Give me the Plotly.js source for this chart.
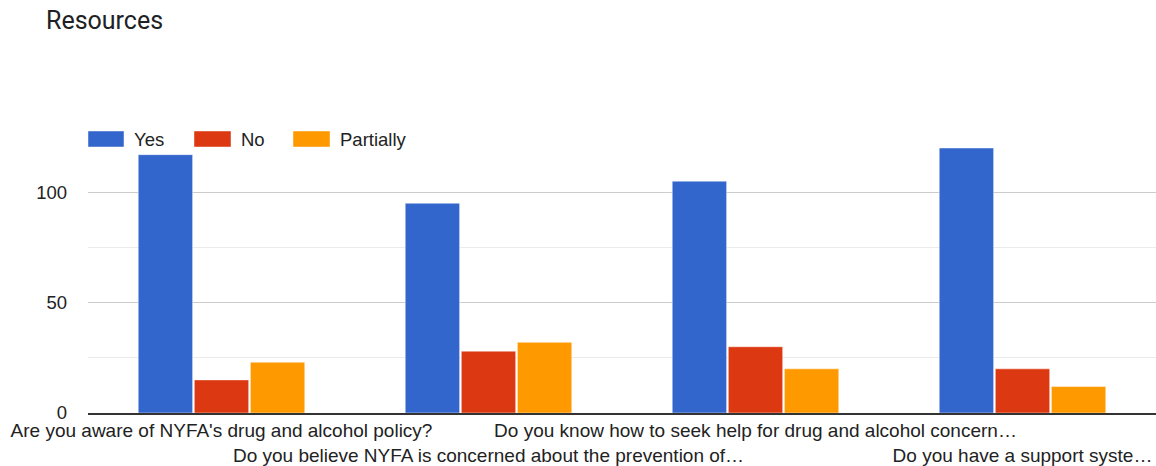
<!DOCTYPE html>
<html>
<head>
<meta charset="utf-8">
<script src="https://cdn.plot.ly/plotly-3.0.1.min.js"></script>
<style>html,body{margin:0;padding:0;background:#fff;}#chart{width:1156px;height:466px;}</style>
</head>
<body>
<div id="chart"></div>
<script>
// ---- data ----
const categories = [
  "Are you aware of NYFA's drug and alcohol policy?",
  "Do you believe NYFA is concerned about the prevention of…",
  "Do you know how to seek help for drug and alcohol concern…",
  "Do you have a support syste…"
];
const seriesNames = ["Yes", "No", "Partially"];
const yesValues = [117, 95, 105, 120];
const noValues = [15, 28, 30, 20];
const partiallyValues = [23, 32, 20, 12];
const yTickVals = [0, 50, 100];
const yTickText = ["0", "50", "100"];

// ---- styles ----
const colors = ["#3366cc", "#dc3912", "#ff9900"];
const values = [yesValues, noValues, partiallyValues];
const W = 1156, H = 466;
const M = {l: 88, r: 0, t: 137, b: 53};
const plotW = W - M.l - M.r, plotH = H - M.t - M.b;
const FONT = 'Liberation Sans, Arial, sans-serif';

const traces = seriesNames.map((name, i) => ({
  type: 'bar',
  name: name,
  x: categories,
  y: values[i],
  marker: {color: colors[i], line: {color: 'rgba(255,255,255,0.45)', width: 1}},
  hoverinfo: 'none',
  showlegend: false
}));

// custom legend (Google-Charts style wide swatches)
const legendSwatchX = [[88, 124], [194, 231], [293, 330]];
const legendTextX = [133, 240, 339];
const legendTop = 131, legendBottom = 147, legendMid = 139;
const px2x = p => (p - M.l) / plotW;
const px2y = p => (H - M.b - p) / plotH;

const shapes = seriesNames.map((n, i) => ({
  type: 'rect', xref: 'paper', yref: 'paper', layer: 'above',
  x0: px2x(legendSwatchX[i][0]), x1: px2x(legendSwatchX[i][1]),
  y0: px2y(legendBottom), y1: px2y(legendTop),
  fillcolor: colors[i], line: {color: 'rgba(255,255,255,0.45)', width: 1}
}));
const annotations = seriesNames.map((n, i) => ({
  xref: 'paper', yref: 'paper', x: px2x(legendTextX[i]), y: px2y(legendMid),
  xanchor: 'left', yanchor: 'middle', showarrow: false, text: n,
  bgcolor: '#ffffff', borderpad: 0,
  font: {family: FONT, size: 18.5, color: '#222222'}
}));

const layout = {
  width: W, height: H,
  margin: M,
  paper_bgcolor: '#ffffff', plot_bgcolor: '#ffffff',
  title: {
    text: 'Resources', x: 46 / W, xanchor: 'left', xref: 'container',
    y: 1 - 20 / H, yanchor: 'middle', yref: 'container',
    font: {family: 'Roboto, sans-serif', size: 25, color: '#202124'}
  },
  barmode: 'group', bargap: 0.37, bargroupgap: 0.03,
  showlegend: false,
  xaxis: {
    type: 'category',
    tickvals: categories,
    ticktext: categories.map((c, i) => (i % 2 ? '<br>' + c : c)),
    tickfont: {family: FONT, size: 19, color: '#222222'},
    tickangle: 0,
    showgrid: false, zeroline: false,
    showline: true, linecolor: '#333333', linewidth: 1.5,
    ticks: '', fixedrange: true
  },
  yaxis: {
    range: [0, 125],
    tickvals: yTickVals, ticktext: yTickText,
    tickfont: {family: FONT, size: 18.5, color: '#222222'},
    gridcolor: '#cccccc', gridwidth: 1,
    minor: {tickvals: [25, 75, 125], showgrid: true, gridcolor: '#ebebeb', gridwidth: 1},
    zeroline: false, showline: false, ticks: '',
    ticklabelstandoff: 20, fixedrange: true
  },
  shapes: shapes,
  annotations: annotations
};

Plotly.newPlot('chart', traces, layout, {displayModeBar: false, staticPlot: true});
</script>
</body>
</html>
